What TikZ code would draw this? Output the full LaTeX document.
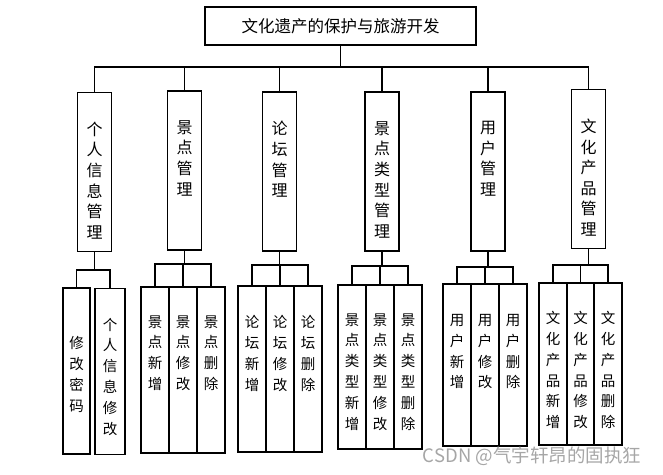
\documentclass[tikz,border=0pt]{standalone}
\usepackage{fontspec}
\newfontfamily\cjk{Noto Sans CJK SC}
\usetikzlibrary{positioning}
\begin{document}
\begin{tikzpicture}[x=1pt,y=-1pt]
\tikzstyle{box}=[rectangle, draw, line width=1.6pt, inner sep=0pt]
\tikzstyle{mod}=[box, minimum width=34pt, minimum height=159pt]
\tikzstyle{fun}=[box, minimum width=28pt, minimum height=166pt]
\tikzstyle{txt1}=[anchor=north, align=center, inner sep=0pt,
                        font=\fontsize{16}{20.6}\selectfont\cjk]
\tikzstyle{txt2}=[anchor=north, align=center, inner sep=0pt,
                        font=\fontsize{14.5}{20.8}\selectfont\cjk]
\tikzstyle{wire}=[line width=1.6pt]
\useasboundingbox (0,0) rectangle (663,474);
	\node[box, minimum width=271pt, minimum height=38pt,
		font=\fontsize{16.5}{16.5}\selectfont\cjk] (root) at (340.5,26) {文化遗产的保护与旅游开发};
	\node[mod] (grxx) at (94.5,172){};
	\node[mod] (jdgl) at (184.5,170.5){};
	\node[mod] (ltgl) at (279.5,171.5){};
	\node[mod] (jdlx) at (382,171.5){};
	\node[mod] (yhgl) at (488,171.5){};
	\node[mod] (whcp) at (588.5,169){};
	\node[txt1, below=30pt of grxx.north] (grxx-t) {个\\人\\信\\息\\管\\理};
	\node[txt1, below=30pt of jdgl.north] (jdgl-t) {景\\点\\管\\理};
	\node[txt1, below=30pt of ltgl.north] (ltgl-t) {论\\坛\\管\\理};
	\node[txt1, below=30pt of jdlx.north] (jdlx-t) {景\\点\\类\\型\\管\\理};
	\node[txt1, below=30pt of yhgl.north] (yhgl-t) {用\\户\\管\\理};
	\node[txt1, below=30pt of whcp.north] (whcp-t) {文\\化\\产\\品\\管\\理};
	\node[fun, minimum width=27pt] (grxx1) at (76.5,371){};
	\node[fun, minimum width=30pt] (grxx2) at (110,371.5){};
	\node[fun] (jdgl1) at (155,370){};
	\node[fun] (jdgl2) at (183,370){};
	\node[fun] (jdgl3) at (211,370){};
	\node[fun] (ltgl1) at (252,369){};
	\node[fun] (ltgl2) at (280,369){};
	\node[fun] (ltgl3) at (308,369){};
	\node[fun, minimum height=164pt] (jdlx1) at (352,367){};
	\node[fun, minimum height=164pt] (jdlx2) at (380,367){};
	\node[fun, minimum height=164pt] (jdlx3) at (408,367){};
	\node[fun, minimum height=162pt] (yhgl1) at (457,365){};
	\node[fun, minimum height=162pt] (yhgl2) at (485,365){};
	\node[fun, minimum height=162pt] (yhgl3) at (513,365){};
	\node[fun, minimum height=162pt] (whcp1) at (553,364){};
	\node[fun, minimum height=162pt] (whcp2) at (580.5,364){};
	\node[fun, minimum height=162pt] (whcp3) at (608,364){};
	\node[txt2, below=49pt of grxx1.north] (grxx1-t) {修\\改\\密\\码};
	\node[txt2, below=30pt of grxx2.north] (grxx2-t) {个\\人\\信\\息\\修\\改};
	\node[txt2, below=29pt of jdgl1.north] (jdgl1-t) {景\\点\\新\\增};
	\node[txt2, below=29pt of jdgl2.north] (jdgl2-t) {景\\点\\修\\改};
	\node[txt2, below=29pt of jdgl3.north] (jdgl3-t) {景\\点\\删\\除};
	\node[txt2, below=30pt of ltgl1.north] (ltgl1-t) {论\\坛\\新\\增};
	\node[txt2, below=30pt of ltgl2.north] (ltgl2-t) {论\\坛\\修\\改};
	\node[txt2, below=30pt of ltgl3.north] (ltgl3-t) {论\\坛\\删\\除};
	\node[txt2, below=29pt of jdlx1.north] (jdlx1-t) {景\\点\\类\\型\\新\\增};
	\node[txt2, below=29pt of jdlx2.north] (jdlx2-t) {景\\点\\类\\型\\修\\改};
	\node[txt2, below=29pt of jdlx3.north] (jdlx3-t) {景\\点\\类\\型\\删\\除};
	\node[txt2, below=31pt of yhgl1.north] (yhgl1-t) {用\\户\\新\\增};
	\node[txt2, below=31pt of yhgl2.north] (yhgl2-t) {用\\户\\修\\改};
	\node[txt2, below=31pt of yhgl3.north] (yhgl3-t) {用\\户\\删\\除};
	\node[txt2, below=29pt of whcp1.north] (whcp1-t) {文\\化\\产\\品\\新\\增};
	\node[txt2, below=29pt of whcp2.north] (whcp2-t) {文\\化\\产\\品\\修\\改};
	\node[txt2, below=29pt of whcp3.north] (whcp3-t) {文\\化\\产\\品\\删\\除};
	\coordinate (bus) at (340.5,67);
	\coordinate (grxx-bus) at (94.5,270);
	\coordinate (jdgl-bus) at (184.5,264);
	\coordinate (ltgl-bus) at (279.5,265);
	\coordinate (jdlx-bus) at (382,266);
	\coordinate (yhgl-bus) at (488,267);
	\coordinate (whcp-bus) at (588.5,265);
\draw[wire] (root.south)--(bus);
\draw[wire] (grxx.north)--(grxx.north |- bus)--(whcp.north |- bus)--(whcp.north);
\foreach \m in {jdgl,ltgl,jdlx,yhgl}
	\draw[wire] (\m.north)--(\m.north |- bus);
\foreach \m in {grxx,jdgl,ltgl,jdlx,yhgl,whcp}
	\draw[wire] (\m.south)--(\m-bus);
\draw[wire] (grxx1.north)--(grxx1.north |- grxx-bus)--(grxx2.north |- grxx-bus)--(grxx2.north);
\foreach \m in {jdgl,ltgl,jdlx,yhgl,whcp}
	\draw[wire] (\m1.north)--(\m1.north |- \m-bus)--(\m3.north |- \m-bus)--(\m3.north)
		(\m2.north)--(\m2.north |- \m-bus);
	\node[font=\fontsize{18.5}{18.5}\selectfont\cjk, text=gray!70] (mark) at (532,456) {CSDN @气宇轩昂的固执狂};
\end{tikzpicture}
\end{document}
